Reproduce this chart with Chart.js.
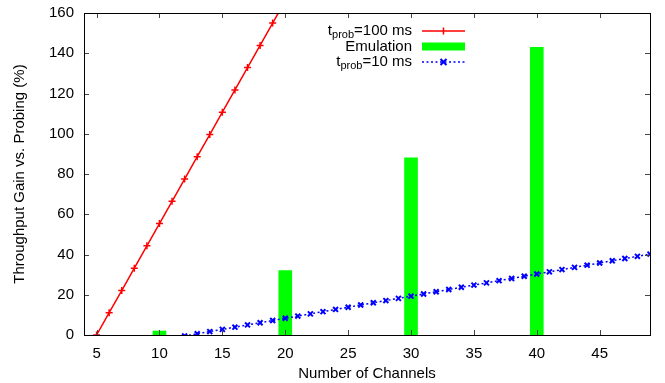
<!DOCTYPE html>
<html>
<head>
<meta charset="utf-8">
<script src="https://cdn.jsdelivr.net/npm/chart.js@4/dist/chart.umd.min.js"></script>
<style>
  body { margin: 0; background: #fff; }
  canvas { display: block; }
</style>
</head>
<body>
<canvas id="chart" width="665" height="383"></canvas>
<script>
// channels / gain values
const redX = [5, 6, 7, 8, 9, 10, 11, 12, 13, 14, 15, 16, 17, 18, 19, 20];
const redY = [0, 11.1, 22.1, 33.2, 44.3, 55.4, 66.4, 77.5, 88.6, 99.6, 110.7, 121.8, 132.9, 143.9, 155.0, 166.1];

const blueX = [12, 13, 14, 15, 16, 17, 18, 19, 20, 21, 22, 23, 24, 25, 26, 27, 28, 29, 30,
  31, 32, 33, 34, 35, 36, 37, 38, 39, 40, 41, 42, 43, 44, 45, 46, 47, 48, 49];
const blueY = [-0.5, 0.6, 1.7, 2.8, 3.9, 5.0, 6.1, 7.2, 8.3, 9.4, 10.5, 11.6, 12.7, 13.8, 14.9, 16.0, 17.1, 18.2, 19.3,
  20.4, 21.5, 22.6, 23.7, 24.8, 25.9, 27.0, 28.1, 29.2, 30.3, 31.4, 32.5, 33.6, 34.7, 35.8, 36.9, 38.0, 39.1, 40.2];

const emuX = [10, 20, 30, 40];
const emuY = [2, 32, 88, 143];

const xTickValues = [5, 10, 15, 20, 25, 30, 35, 40, 45];
const yTickValues = [0, 20, 40, 60, 80, 100, 120, 140, 160];

const FONT = "'Liberation Sans', Arial, Helvetica, sans-serif";

const toPoints = (xs, ys) => xs.map((x, i) => ({ x: x, y: ys[i] }));

// gnuplot style frame with inward ticks on all four sides
const framePlugin = {
  id: 'frame',
  afterDatasetsDraw(chart) {
    const ctx = chart.ctx;
    const a = chart.chartArea;
    const xs = chart.scales.x;
    const ys = chart.scales.y;
    ctx.save();
    ctx.strokeStyle = '#444';
    ctx.lineWidth = 1;
    ctx.beginPath();
    xs.ticks.forEach(t => {
      const px = Math.round(xs.getPixelForValue(t.value)) + 0.5;
      ctx.moveTo(px, a.bottom); ctx.lineTo(px, a.bottom - 5);
      ctx.moveTo(px, a.top); ctx.lineTo(px, a.top + 5);
    });
    ys.ticks.forEach(t => {
      const py = Math.round(ys.getPixelForValue(t.value)) + 0.5;
      ctx.moveTo(a.left, py); ctx.lineTo(a.left + 5, py);
      ctx.moveTo(a.right, py); ctx.lineTo(a.right - 5, py);
    });
    ctx.stroke();
    ctx.strokeStyle = '#000';
    ctx.strokeRect(Math.round(a.left) + 0.5, Math.round(a.top) + 0.5,
      Math.round(a.right - a.left), Math.round(a.bottom - a.top));
    ctx.restore();
  }
};

// legend with subscripts, drawn inside the plot
const legendPlugin = {
  id: 'subLegend',
  afterDraw(chart) {
    const ctx = chart.ctx;
    const textRight = 412;
    const sx0 = 422, sx1 = 465;
    const rows = [
      { parts: [['t', 15, 0], ['prob', 11, 4], ['=100 ms', 15, 0]], y: 31 },
      { parts: [['Emulation', 15, 0]], y: 46.5 },
      { parts: [['t', 15, 0], ['prob', 11, 4], ['=10 ms', 15, 0]], y: 62 }
    ];
    ctx.save();
    ctx.fillStyle = '#000';
    ctx.textBaseline = 'middle';
    ctx.textAlign = 'left';
    rows.forEach(r => {
      let w = 0;
      r.parts.forEach(p => { ctx.font = p[1] + 'px ' + FONT; w += ctx.measureText(p[0]).width; });
      let x = textRight - w;
      r.parts.forEach(p => {
        ctx.font = p[1] + 'px ' + FONT;
        ctx.fillText(p[0], x, r.y + p[2]);
        x += ctx.measureText(p[0]).width;
      });
    });
    // red sample
    ctx.strokeStyle = '#ff0000';
    ctx.lineWidth = 1.5;
    ctx.beginPath();
    ctx.moveTo(sx0, 31); ctx.lineTo(sx1, 31);
    ctx.moveTo(443.5, 27.5); ctx.lineTo(443.5, 34.5);
    ctx.stroke();
    // green sample
    ctx.fillStyle = '#00ff00';
    ctx.fillRect(sx0, 42.5, sx1 - sx0, 8);
    // blue sample
    ctx.strokeStyle = '#0000ff';
    ctx.setLineDash([2, 2.5]);
    ctx.beginPath();
    ctx.moveTo(sx0, 62); ctx.lineTo(sx1, 62);
    ctx.stroke();
    ctx.setLineDash([]);
    ctx.lineWidth = 2;
    ctx.beginPath();
    ctx.moveTo(440.5, 59); ctx.lineTo(446.5, 65);
    ctx.moveTo(446.5, 59); ctx.lineTo(440.5, 65);
    ctx.stroke();
    ctx.restore();
  }
};

new Chart(document.getElementById('chart'), {
  type: 'line',
  data: {
    datasets: [
      {
        label: 't_prob=100 ms',
        data: toPoints(redX, redY),
        borderColor: '#ff0000',
        backgroundColor: '#ff0000',
        borderWidth: 1.5,
        pointStyle: 'cross',
        pointRadius: 3.5,
        pointBorderWidth: 1.5,
        tension: 0,
        order: 1
      },
      {
        type: 'bar',
        label: 'Emulation',
        data: toPoints(emuX, emuY),
        backgroundColor: '#00ff00',
        borderWidth: 0,
        barThickness: 13,
        order: 3
      },
      {
        label: 't_prob=10 ms',
        data: toPoints(blueX, blueY),
        borderColor: '#0000ff',
        backgroundColor: '#0000ff',
        borderWidth: 1.5,
        borderDash: [2, 2.5],
        pointStyle: 'crossRot',
        pointRadius: 3.5,
        pointBorderWidth: 2,
        tension: 0,
        order: 2
      }
    ]
  },
  options: {
    responsive: false,
    animation: false,
    layout: { padding: { top: 13, right: 15, left: 0, bottom: 0 } },
    plugins: {
      legend: { display: false },
      tooltip: { enabled: false }
    },
    scales: {
      x: {
        type: 'linear',
        min: 4,
        max: 49,
        offset: false,
        grid: { display: false, offset: false, drawTicks: false },
        border: { display: false },
        afterBuildTicks(scale) { scale.ticks = xTickValues.map(v => ({ value: v })); },
        ticks: {
          padding: 10,
          color: '#000',
          font: { family: FONT, size: 15 }
        },
        title: {
          display: true,
          text: 'Number of Channels',
          color: '#000',
          font: { family: FONT, size: 15 },
          padding: { top: 4, bottom: 0 }
        },
        afterFit(scale) { scale.height = 48; }
      },
      y: {
        min: 0,
        max: 160,
        grid: { display: false, drawTicks: false },
        border: { display: false },
        afterBuildTicks(scale) { scale.ticks = yTickValues.map(v => ({ value: v })); },
        ticks: {
          padding: 10,
          color: '#000',
          font: { family: FONT, size: 15 }
        },
        title: {
          display: true,
          text: 'Throughput Gain vs. Probing (%)',
          color: '#000',
          font: { family: FONT, size: 15 },
          padding: { top: 11, bottom: 0 }
        },
        afterFit(scale) {
          scale.width = 84;
          scale.paddingTop = 0;
          scale.paddingBottom = 0;
        }
      }
    }
  },
  plugins: [framePlugin, legendPlugin]
});
</script>
</body>
</html>
